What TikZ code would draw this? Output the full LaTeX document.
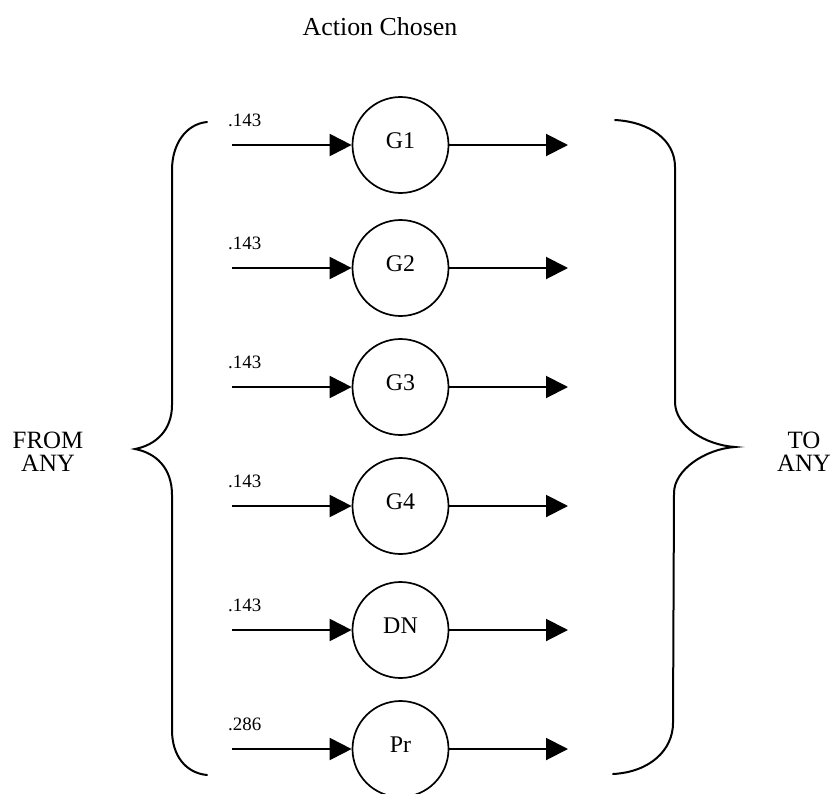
\documentclass[tikz,border=0pt]{standalone}
\usepackage{fontspec}
\setmainfont{Liberation Serif}
\usetikzlibrary{arrows.meta}
\begin{document}
\begin{tikzpicture}[x=1bp,y=-1bp,
  state/.style={circle,draw,line width=1.7bp,minimum size=96bp,inner sep=0pt,
    font=\fontsize{24}{24}\selectfont,text depth=0pt},
  flow/.style={line width=2bp,-{Triangle[length=22bp,width=22bp]}},
  prob/.style={anchor=south west,inner sep=0pt,font=\fontsize{19}{19}\selectfont},
  side/.style={align=center,font=\fontsize{25}{23}\selectfont},
  brace/.style={line width=2bp,line cap=round}]
\useasboundingbox (0,0) rectangle (836,794);

% title
\node[font=\fontsize{26}{26}\selectfont] (title) at (380,27) {Action Chosen};

% one row per action: input probability, state, outgoing transition
\foreach \name/\lab/\p/\y in {g1/G1/.143/145, g2/G2/.143/268, g3/G3/.143/387,
                              g4/G4/.143/506, dn/DN/.143/630, pr/Pr/.286/749} {
  \node[state] (\name) at (400.5,\y) {\raisebox{9bp}{\lab}};
  \coordinate (\name-in) at (232,\y);
  \coordinate (\name-out) at (568,\y);
  \node[prob] (\name-p) at (228,\y-18) {\p};
  \draw[flow] (\name-in) -- (\name);
  \draw[flow] (\name) -- (\name-out);
}

% side labels
\node[side] (from) at (48,452) {FROM\\ANY};
\node[side] (to) at (804,452) {TO\\ANY};

% left brace
\draw[brace] (207,122) .. controls (186,124) and (172,144) .. (172,170)
  -- (172,405) .. controls (172,430) and (156,445) .. (135,449)
  .. controls (156,453) and (172,468) .. (172,495)
  -- (172,730) .. controls (172,756) and (186,773) .. (207,775);

% right brace
\draw[brace] (615,120) .. controls (650,122) and (675,140) .. (675,167)
  -- (675,402) .. controls (675,426) and (705,445) .. (735,447)
  .. controls (705,449) and (674,470) .. (674,493)
  -- (673,723) .. controls (673,750) and (650,772) .. (613,774);
\end{tikzpicture}
\end{document}
